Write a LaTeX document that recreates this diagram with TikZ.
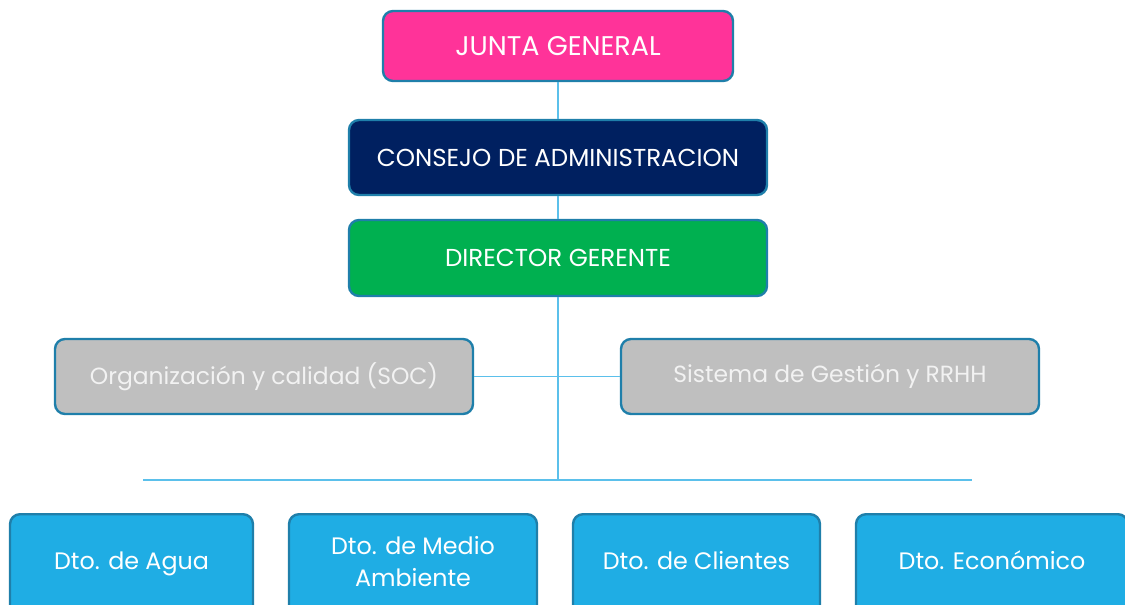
\documentclass[tikz,border=0pt]{standalone}
\usepackage{fontspec}
\setmainfont{Poppins}
\definecolor{pinkbox}{HTML}{FF3399}
\definecolor{navybox}{HTML}{002060}
\definecolor{greenbox}{HTML}{00B050}
\definecolor{graybox}{HTML}{BFBFBF}
\definecolor{bluebox}{HTML}{1FADE4}
\definecolor{edge}{HTML}{1F7FAA}
\definecolor{link}{HTML}{5BC0EB}
\definecolor{graytext}{HTML}{F2F2F2}
\begin{document}
\begin{tikzpicture}[x=1pt,y=-1pt,
  box/.style={draw=edge, line width=2.4pt, rounded corners=10pt, inner sep=0pt, align=center, text=white},
  lbl/.style={text=white, align=center, inner sep=0pt, font=\fontsize{23.8}{32}\selectfont},
  conn/.style={draw=link, line width=1.5pt}]
\useasboundingbox (0,0) rectangle (1125,605);
\clip (0,0) rectangle (1125,605);
\node[box, fill=pinkbox, minimum width=350pt, minimum height=70pt, font=\fontsize{27}{32}\selectfont] (jg) at (558,46) {JUNTA GENERAL};
\node[box, fill=navybox, minimum width=418pt, minimum height=75pt, font=\fontsize{24.5}{30}\selectfont] (ca) at (558,157.5) {CONSEJO DE ADMINISTRACION};
\node[box, fill=greenbox, minimum width=418pt, minimum height=76pt, font=\fontsize{24.5}{30}\selectfont] (dg) at (558,258) {DIRECTOR GERENTE};
\node[box, fill=graybox, text=graytext, minimum width=418pt, minimum height=75pt, font=\fontsize{23.4}{30}\selectfont] (oc) at (264,376.5) {Organización y calidad (SOC)};
\node[box, fill=graybox, text=graytext, minimum width=418pt, minimum height=75pt, font=\fontsize{23.4}{30}\selectfont] (sg) at (830,376.5) {\raisebox{-2pt}{Sistema de Gestión y RRHH}};
\coordinate (bus) at (558,480);
\coordinate (busl) at (143,480);
\coordinate (busr) at (972,480);
\draw[conn] (jg.south) -- (ca.north);
\draw[conn] (ca.south) -- (dg.north);
\draw[conn] (dg.south) -- (bus);
\draw[conn] (oc.east) -- (sg.west);
\draw[conn] (busl) -- (busr);
\node[box, fill=bluebox, minimum width=243pt, minimum height=110pt, anchor=north] (da) at (131.5,513) {};
\node[lbl, anchor=base] (tda) at (131.5,569.5) {Dto. de Agua};
\node[box, fill=bluebox, minimum width=248pt, minimum height=110pt, anchor=north] (dm) at (413,513) {};
\node[lbl] (tdm) at (413,562) {Dto. de Medio\\Ambiente};
\node[box, fill=bluebox, minimum width=247pt, minimum height=110pt, anchor=north] (dc) at (696.5,513) {};
\node[lbl, anchor=base] (tdc) at (696.5,569.5) {Dto. de Clientes};
\node[box, fill=bluebox, minimum width=272pt, minimum height=110pt, anchor=north] (de) at (992,513) {};
\node[lbl, anchor=base] (tde) at (992,569.5) {Dto. Económico};
\end{tikzpicture}
\end{document}
